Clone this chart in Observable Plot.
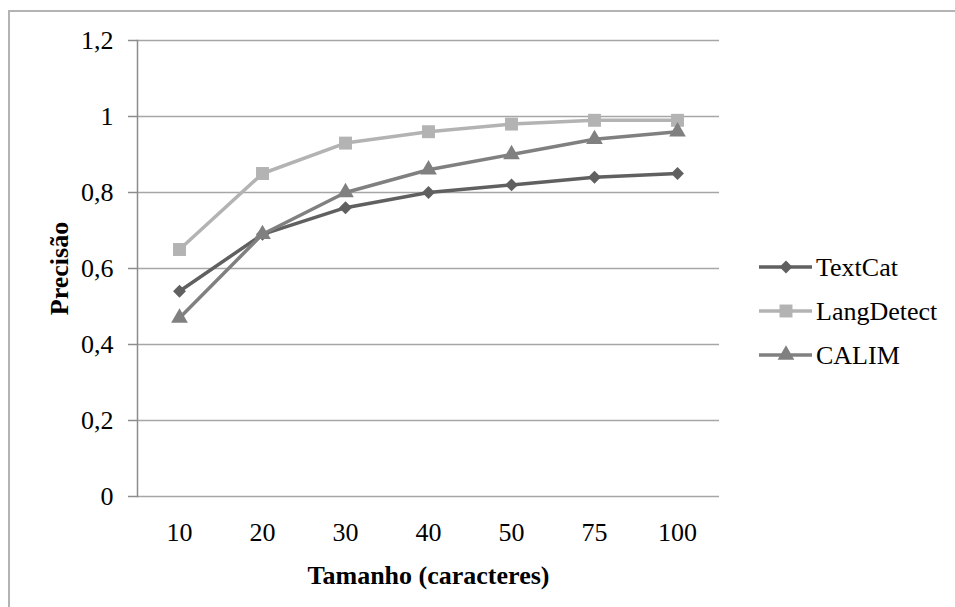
<!DOCTYPE html>
<html><head><meta charset="utf-8">
<script src="https://cdn.jsdelivr.net/npm/d3@7"></script>
<script src="https://cdn.jsdelivr.net/npm/@observablehq/plot@0.6"></script>
</head>
<body style="margin:0;background:#fff">
<div id="chart"></div>
<script>
const sizes = ["10","20","30","40","50","75","100"];
const textCat = [0.54,0.69,0.76,0.80,0.82,0.84,0.85];
const langDetect = [0.65,0.85,0.93,0.96,0.98,0.99,0.99];
const calim = [0.47,0.69,0.80,0.86,0.90,0.94,0.96];
const seriesNames = ["TextCat","LangDetect","CALIM"];
const seriesColors = ["#606060","#b3b3b3","#808080"];
const seriesSymbols = ["diamond2","square","triangle"];
const seriesR = [5.8,7.3,6.2];
const yTicks = [0,0.2,0.4,0.6,0.8,1,1.2];
const xTitle = "Tamanho (caracteres)";
const yTitle = "Precisão";

const values = [textCat, langDetect, calim];
const rows = seriesNames.flatMap((name,k)=>sizes.map((s,i)=>({series:name, size:s, v:values[k][i]})));
const font = "Liberation Serif";

const marks = [
  Plot.ruleY(yTicks, {stroke:"#a6a6a6", strokeWidth:1.5}),
  Plot.frame({anchor:"left", stroke:"#8c8c8c", strokeWidth:1.5}),
];
seriesNames.forEach((name,k)=>{
  const d = rows.filter(r=>r.series===name);
  marks.push(Plot.line(d, {x:"size", y:"v", stroke:seriesColors[k], strokeWidth:3.5}));
  marks.push(Plot.dot(d, {x:"size", y:"v", fill:seriesColors[k], symbol:seriesSymbols[k], r:seriesR[k], stroke:"none"}));
});
marks.push(Plot.text([xTitle], {frameAnchor:"bottom", dy:79, lineAnchor:"middle", fontWeight:"bold", fontSize:26, fill:"#000"}));
marks.push(Plot.text([yTitle], {frameAnchor:"left", dx:-78, rotate:-90, lineAnchor:"middle", textAnchor:"middle", fontWeight:"bold", fontSize:26, fill:"#000"}));

const chart = Plot.plot({
  width:955, height:607,
  marginLeft:137, marginRight:236, marginTop:40, marginBottom:111,
  style:{fontFamily:font, fontSize:"26px"},
  x:{type:"point", domain:sizes, padding:0.5, label:null, tickSize:0, tickPadding:26},
  y:{domain:[0,1.2], ticks:yTicks, label:null, tickSize:9, tickPadding:15, tickFormat:d=>String(d).replace(".",",")},
  marks
});
document.getElementById("chart").appendChild(chart);
const svg = d3.select(chart);
svg.selectAll('[aria-label="y-axis tick"] path').attr("stroke","#8c8c8c").attr("stroke-width",1.5);

// outer chart-area border (top and left edges visible)
svg.insert("path", ":first-child").attr("d","M9,607V11H955").attr("fill","none").attr("stroke","#b3b3b3").attr("stroke-width",2);

// legend
const rowY = [267,311,355];
seriesNames.forEach((name,k)=>{
  const g = svg.append("g").attr("transform",`translate(0,${rowY[k]})`);
  g.append("line").attr("x1",759).attr("x2",812).attr("stroke",seriesColors[k]).attr("stroke-width",3.5);
  const sym = {diamond2:d3.symbolDiamond2, square:d3.symbolSquare, triangle:d3.symbolTriangle}[seriesSymbols[k]];
  g.append("path").attr("transform","translate(786,0)").attr("d",d3.symbol(sym, Math.PI*seriesR[k]*seriesR[k])()).attr("fill",seriesColors[k]);
  g.append("text").attr("x",816).attr("dy","0.35em").attr("text-anchor","start").attr("font-size",26).attr("fill","#000").text(name);
});
</script>
</body></html>
